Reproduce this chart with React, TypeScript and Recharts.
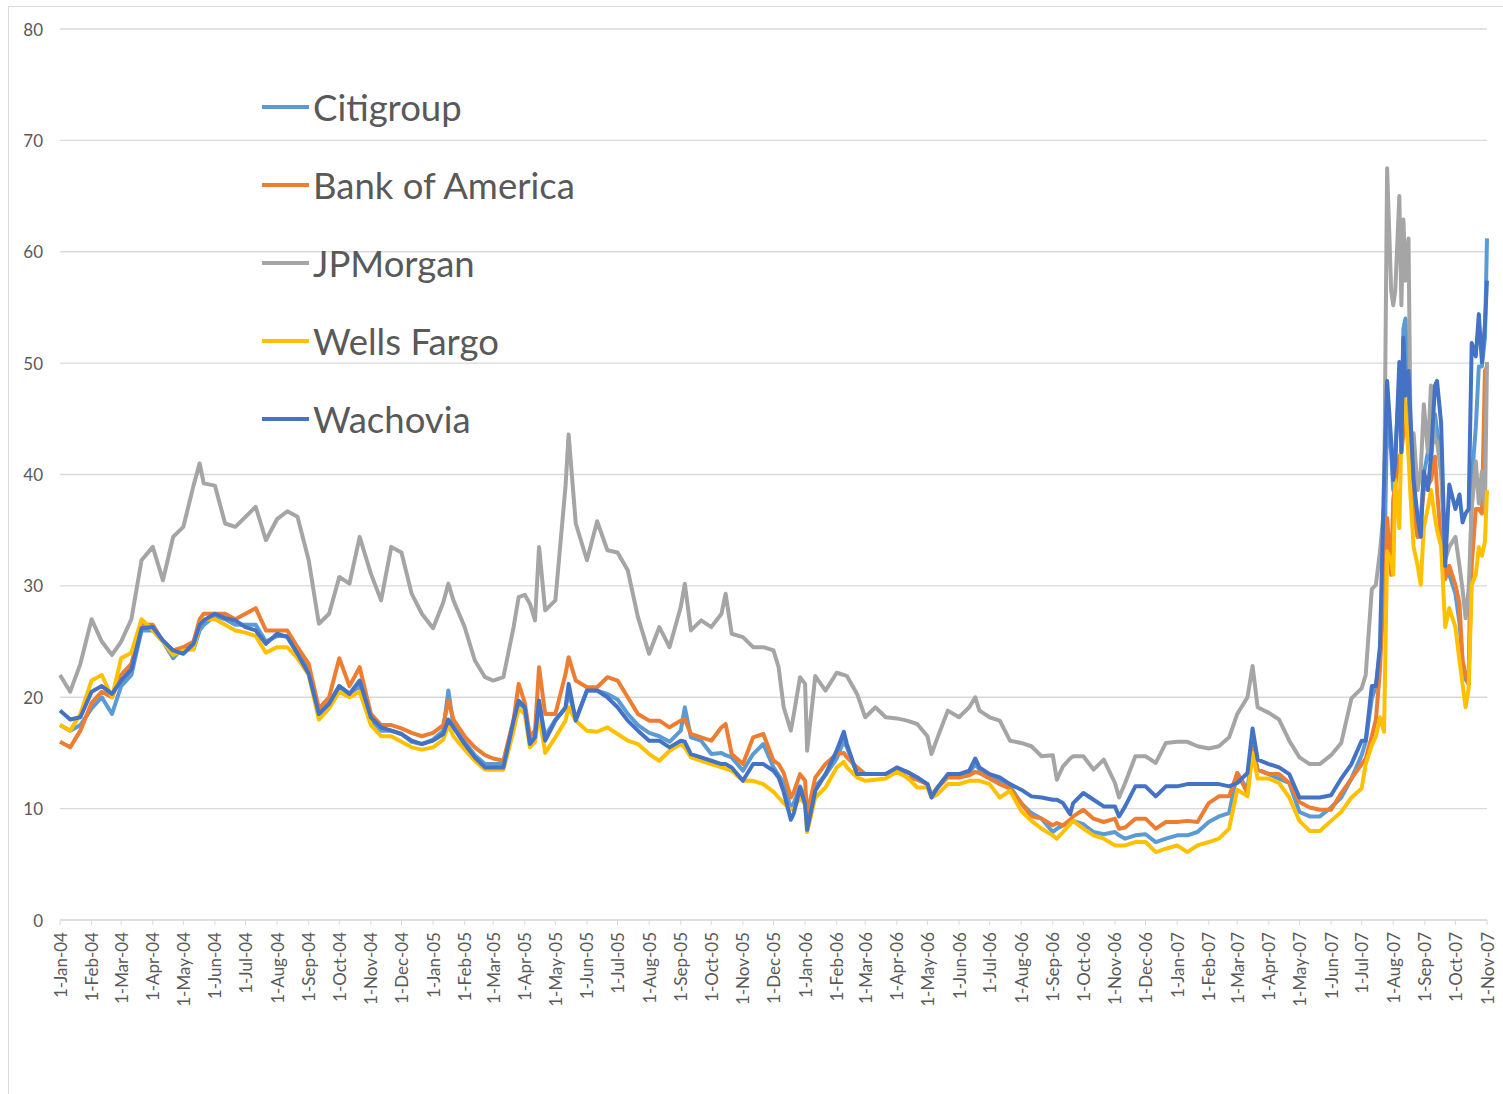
import React from "react"
import { LineChart, Line, XAxis, YAxis, CartesianGrid, Legend } from "recharts"

// sample dates (roughly every 10 days, denser around the spikes)
const dates = [
  "2004-01-01", "2004-01-11", "2004-01-21", "2004-02-01", "2004-02-11", "2004-02-21", "2004-03-01", "2004-03-11", "2004-03-21",
  "2004-04-01", "2004-04-11", "2004-04-21", "2004-05-01", "2004-05-11", "2004-05-17", "2004-05-21", "2004-06-01", "2004-06-11",
  "2004-06-21", "2004-07-01", "2004-07-11", "2004-07-21", "2004-08-01", "2004-08-11", "2004-08-21", "2004-09-01", "2004-09-11",
  "2004-09-21", "2004-10-01", "2004-10-11", "2004-10-21", "2004-11-01", "2004-11-11", "2004-11-21", "2004-12-01", "2004-12-11",
  "2004-12-21", "2005-01-01", "2005-01-11", "2005-01-16", "2005-01-21", "2005-02-01", "2005-02-11", "2005-02-21", "2005-03-01",
  "2005-03-11", "2005-03-21", "2005-03-26", "2005-04-01", "2005-04-06", "2005-04-11", "2005-04-15", "2005-04-21", "2005-05-01",
  "2005-05-11", "2005-05-14", "2005-05-21", "2005-06-01", "2005-06-11", "2005-06-21", "2005-07-01", "2005-07-11", "2005-07-21",
  "2005-08-01", "2005-08-11", "2005-08-21", "2005-09-01", "2005-09-05", "2005-09-11", "2005-09-21", "2005-10-01", "2005-10-11",
  "2005-10-15", "2005-10-21", "2005-11-01", "2005-11-11", "2005-11-21", "2005-12-01", "2005-12-06", "2005-12-11", "2005-12-18",
  "2005-12-21", "2005-12-27", "2006-01-01", "2006-01-03", "2006-01-11", "2006-01-21", "2006-02-01", "2006-02-08", "2006-02-11",
  "2006-02-21", "2006-03-01", "2006-03-11", "2006-03-21", "2006-04-01", "2006-04-11", "2006-04-21", "2006-05-01", "2006-05-05",
  "2006-05-11", "2006-05-21", "2006-06-01", "2006-06-11", "2006-06-17", "2006-06-21", "2006-07-01", "2006-07-11", "2006-07-21",
  "2006-08-01", "2006-08-11", "2006-08-21", "2006-09-01", "2006-09-05", "2006-09-11", "2006-09-18", "2006-09-21", "2006-10-01",
  "2006-10-11", "2006-10-21", "2006-11-01", "2006-11-05", "2006-11-11", "2006-11-21", "2006-12-01", "2006-12-11", "2006-12-21",
  "2007-01-01", "2007-01-11", "2007-01-21", "2007-02-01", "2007-02-11", "2007-02-21", "2007-03-01", "2007-03-11", "2007-03-16",
  "2007-03-21", "2007-04-01", "2007-04-11", "2007-04-21", "2007-05-01", "2007-05-11", "2007-05-21", "2007-06-01", "2007-06-11",
  "2007-06-21", "2007-07-01", "2007-07-05", "2007-07-11", "2007-07-15", "2007-07-19", "2007-07-23", "2007-07-26", "2007-07-30",
  "2007-08-01", "2007-08-03", "2007-08-07", "2007-08-09", "2007-08-11", "2007-08-13", "2007-08-16", "2007-08-18", "2007-08-21",
  "2007-08-25", "2007-08-28", "2007-08-31", "2007-09-04", "2007-09-07", "2007-09-11", "2007-09-13", "2007-09-17", "2007-09-21",
  "2007-09-25", "2007-10-01", "2007-10-05", "2007-10-08", "2007-10-11", "2007-10-14", "2007-10-17", "2007-10-21", "2007-10-24",
  "2007-10-27", "2007-10-30", "2007-11-01",
]

const citigroup = [
  17.5, 17, 17.5, 19, 20, 18.5, 21, 22, 26, 26, 25, 23.5, 24.5, 24.3, 26, 26.5, 27.3, 27, 26.5, 26.5, 26.5, 25, 25.5, 25.5, 24,
  22.5, 18.5, 19.5, 21, 20.3, 21, 18, 17, 17, 16.7, 16, 15.8, 16.2, 17, 20.6, 17.5, 16, 14.8, 14, 14, 14, 17.5, 19.5, 19, 16,
  16.5, 19.5, 16.5, 18, 19, 20.5, 18, 20.6, 20.6, 20.3, 19.8, 18.5, 17.5, 16.8, 16.5, 16, 17, 19.1, 16.4, 16.1, 14.9, 15, 14.8,
  14.6, 13.4, 14.9, 15.8, 13.7, 13, 12.3, 10, 10.5, 12, 11, 8.5, 12, 13, 14.5, 16.1, 15.5, 13.1, 13.1, 13.1, 13.1, 13.6, 13.3,
  12.8, 12.2, 11.2, 11.9, 13, 13, 13.2, 14, 13.5, 12.9, 12.5, 12, 10.5, 9.6, 9.1, 7.9, 8.2, 8.5, 8.7, 8.9, 8.6, 7.9, 7.7, 7.9,
  7.6, 7.3, 7.6, 7.7, 7, 7.3, 7.6, 7.6, 7.9, 8.8, 9.3, 9.6, 13.2, 11.7, 15.6, 13.5, 13.1, 12.7, 12.3, 9.7, 9.3, 9.3, 10.1, 11,
  12.7, 14.8, 16, 19.9, 21, 24, 30, 45.4, 42, 38.6, 42, 48, 45, 53.1, 54, 47.1, 44, 38.2, 34.4, 36, 40, 42, 41.2, 45.4, 44,
  41.6, 31.8, 31, 29.3, 26.7, 23.3, 21.6, 21.2, 39.5, 44.2, 49.7, 49.7, 52.3, 61.2,
]

const bankOfAmerica = [
  16, 15.5, 17, 19.5, 20.5, 20, 22, 23, 26.5, 26.5, 25, 24.2, 24.5, 25, 27, 27.5, 27.5, 27.5, 27, 27.5, 28, 26, 26, 26, 24.5,
  23, 19, 20, 23.5, 21, 22.7, 18.5, 17.5, 17.5, 17.2, 16.8, 16.5, 16.8, 17.5, 19.7, 18, 16.5, 15.5, 14.8, 14.5, 14.3, 18, 21.2,
  19.5, 16.5, 17, 22.7, 18.5, 18.5, 22.1, 23.6, 21.5, 20.9, 20.9, 21.8, 21.5, 20, 18.5, 17.9, 17.9, 17.3, 17.9, 18, 16.7, 16.4,
  16.1, 17.3, 17.6, 14.9, 14, 16.4, 16.7, 14.3, 14, 13.2, 11, 11.5, 13.1, 12.5, 9.5, 12.8, 14, 14.9, 15, 14.6, 13.7, 13.1, 13.1,
  13.1, 13.6, 12.8, 12.6, 12.2, 11.2, 11.9, 12.8, 12.8, 13, 13.3, 13.2, 12.7, 12.2, 11.8, 10.5, 9.3, 9.1, 8.5, 8.7, 8.5, 9, 9.3,
  9.9, 9.1, 8.8, 9.1, 8.2, 8.3, 9.1, 9.1, 8.2, 8.8, 8.8, 8.9, 8.8, 10.5, 11.1, 11.1, 13.2, 11.4, 15.3, 13.5, 13.1, 13.1, 12.3,
  10.6, 10.1, 9.9, 9.9, 11.4, 12.7, 14, 14.5, 16.5, 18, 22.5, 30, 36.1, 31, 37.8, 39, 41.6, 42, 43.7, 46.3, 45.4, 42, 36.5,
  34.4, 36, 38.6, 39, 39.5, 41.6, 38.6, 34, 30.6, 31.8, 30.1, 28.4, 23.3, 22, 21.2, 31.8, 36.9, 36.9, 36.5, 49.3, 49.7,
]

const jpMorgan = [
  22, 20.5, 23, 27, 25, 23.8, 25, 27, 32.3, 33.5, 30.5, 34.4, 35.3, 39, 41, 39.2, 39, 35.6, 35.3, 36.2, 37.1, 34.1, 36, 36.7,
  36.2, 32.3, 26.6, 27.5, 30.8, 30.2, 34.4, 31.1, 28.7, 33.5, 33, 29.3, 27.5, 26.2, 28.5, 30.2, 28.7, 26.3, 23.3, 21.8, 21.5,
  21.8, 26.3, 29, 29.2, 28.4, 26.9, 33.5, 27.8, 28.7, 39, 43.6, 35.6, 32.3, 35.8, 33.2, 33, 31.4, 27.2, 23.9, 26.3, 24.5, 28.1,
  30.2, 26, 26.9, 26.3, 27.5, 29.3, 25.7, 25.4, 24.5, 24.5, 24.2, 22.7, 19.1, 17, 18.5, 21.8, 21.2, 15.2, 21.9, 20.6, 22.2, 22,
  21.9, 20.3, 18.2, 19.1, 18.2, 18.1, 17.9, 17.6, 16.5, 14.9, 16.4, 18.8, 18.2, 19.1, 20, 18.8, 18.2, 17.9, 16.1, 15.9, 15.6,
  14.7, 14.8, 12.6, 13.8, 14.5, 14.7, 14.7, 13.5, 14.4, 12.3, 11, 12.3, 14.7, 14.7, 14.1, 15.9, 16, 16, 15.6, 15.4, 15.6, 16.4,
  18.5, 20, 22.8, 19.1, 18.6, 18, 16.1, 14.6, 14, 14, 14.8, 15.9, 19.9, 20.8, 22, 29.7, 30.1, 33.1, 37, 67.5, 56.5, 55.2, 56.5,
  65, 55.2, 62.9, 57.4, 61.2, 43.7, 43.7, 38.6, 40.3, 46.3, 42, 48, 42.9, 43, 40, 32.3, 33.5, 34.4, 31.8, 29.7, 27.1, 29.7,
  36.9, 41.2, 37.4, 40.3, 36.9, 50.1,
]

const wellsFargo = [
  17.5, 17, 18.5, 21.5, 22, 20, 23.5, 24, 27, 26, 25, 23.8, 24.2, 24.3, 26.5, 27, 27, 26.5, 26, 25.8, 25.5, 24, 24.5, 24.5,
  23.5, 22, 18, 19, 20.5, 20, 20.5, 17.5, 16.5, 16.5, 16, 15.5, 15.3, 15.5, 16.2, 17.5, 16.5, 15.3, 14.3, 13.5, 13.5, 13.5, 17,
  19, 18.5, 15.5, 16, 18.5, 15, 16.4, 17.9, 19.1, 17.9, 17, 16.9, 17.3, 16.7, 16.1, 15.8, 14.9, 14.3, 15.2, 15.8, 15.5, 14.6,
  14.3, 14, 13.7, 13.6, 13.4, 12.5, 12.5, 12.2, 11.5, 11, 10.5, 9.9, 10, 11, 10.4, 7.9, 11, 11.9, 13.7, 14.2, 13.7, 12.8, 12.5,
  12.6, 12.7, 13.3, 12.8, 11.9, 11.9, 11, 11.3, 12.2, 12.2, 12.5, 12.5, 12.5, 12.2, 11, 11.6, 9.8, 8.9, 8.2, 7.6, 7.3, 7.9, 8.6,
  8.9, 8.2, 7.6, 7.3, 6.7, 6.7, 6.7, 7, 7, 6.1, 6.4, 6.7, 6.1, 6.7, 7, 7.3, 8.2, 11.7, 11.1, 15, 12.7, 12.7, 12.3, 11, 8.9, 8,
  8, 8.9, 9.7, 11, 11.8, 14, 15.7, 16.5, 18.2, 16.9, 33.1, 32.3, 31, 39.5, 35.2, 43.7, 48, 45.9, 41.6, 38, 33.5, 31.8, 30.1,
  35.2, 37, 38.6, 36.1, 35, 33.5, 26.3, 28, 26.3, 23.3, 21.2, 19.1, 20.8, 30.1, 31, 33.5, 32.7, 34, 38.6,
]

const wachovia = [
  18.8, 18, 18.2, 20.5, 21, 20.3, 21.5, 22.5, 26.2, 26.3, 25.1, 24.2, 23.9, 24.8, 26.5, 26.9, 27.5, 27.1, 26.9, 26.3, 26, 24.8,
  25.7, 25.4, 23.9, 22.1, 18.5, 19.4, 21, 20.3, 21.5, 18.2, 17.3, 17, 16.7, 16.1, 15.8, 16.1, 16.7, 18, 17.3, 15.8, 14.6, 13.7,
  13.7, 13.7, 17.9, 19.7, 19.1, 15.8, 16.4, 19.7, 16.1, 17.9, 19.1, 21.2, 17.9, 20.6, 20.6, 20, 19.1, 17.9, 17, 16.1, 16.1,
  15.5, 16.1, 16, 14.9, 14.6, 14.3, 14, 14, 13.7, 12.5, 14, 14, 13.4, 12.8, 11.5, 9, 9.6, 11.9, 10.4, 8.1, 11.6, 13.1, 15.2,
  16.9, 15.8, 13.1, 13.1, 13.1, 13.1, 13.7, 13.3, 12.8, 12.2, 11, 11.9, 13.1, 13.1, 13.4, 14.5, 13.7, 13.1, 12.8, 12.2, 11.7,
  11.1, 11, 10.8, 10.8, 10.5, 9.5, 10.5, 11.4, 10.8, 10.2, 10.2, 9.3, 10.2, 12, 12, 11.1, 12, 12, 12.2, 12.2, 12.2, 12.2, 12,
  12.3, 13.2, 17.2, 14.4, 14, 13.7, 13.1, 11, 11, 11, 11.2, 12.7, 14, 16.1, 16.1, 21, 21, 24.6, 39.5, 48.4, 43, 39.5, 41,
  50.1, 42, 52.3, 47.1, 49.3, 45, 39.5, 36.1, 34.4, 40.3, 38.6, 41.6, 48, 48.4, 44.6, 31.8, 39.1, 36.9, 38.2, 35.7, 36.5, 36.9,
  51.8, 50.6, 54.4, 50.1, 53.5, 57.4,
]

const seriesList = [
  { key: "citigroup", name: "Citigroup", color: "#5B9BD5", values: citigroup },
  { key: "bankOfAmerica", name: "Bank of America", color: "#ED7D31", values: bankOfAmerica },
  { key: "jpMorgan", name: "JPMorgan", color: "#A5A5A5", values: jpMorgan },
  { key: "wellsFargo", name: "Wells Fargo", color: "#FFC000", values: wellsFargo },
  { key: "wachovia", name: "Wachovia", color: "#4472C4", values: wachovia },
]

const monthNames = ["Jan", "Feb", "Mar", "Apr", "May", "Jun", "Jul", "Aug", "Sep", "Oct", "Nov", "Dec"]
const yTicks = [0, 10, 20, 30, 40, 50, 60, 70, 80]

const toTime = (s: string) => Date.parse(s + "T00:00:00Z")

const data = dates.map((d, i) => {
  const row: Record<string, number> = { t: toTime(d) }
  seriesList.forEach((s) => (row[s.key] = s.values[i]))
  return row
})

// first day of each month, Jan 2004 .. Nov 2007
const monthTicks: number[] = []
for (let y = 2004; y <= 2007; y++) {
  for (let m = 0; m < 12; m++) {
    if (y === 2007 && m > 10) break
    monthTicks.push(Date.UTC(y, m, 1))
  }
}

const fmtMonth = (v: number) => {
  const d = new Date(v)
  return `1-${monthNames[d.getUTCMonth()]}-${String(d.getUTCFullYear()).slice(2)}`
}

const FONT = "Lato, 'Open Sans', sans-serif"
const TEXT = "#595959"

const XTick = (props: any) => {
  const { x, y, payload } = props
  return (
    <text
      x={x}
      y={y}
      transform={`rotate(-90, ${x}, ${y})`}
      textAnchor="end"
      dominantBaseline="central"
      fill={TEXT}
      fontSize={17}
      fontFamily={FONT}
    >
      {fmtMonth(payload.value)}
    </text>
  )
}

const YTick = (props: any) => {
  const { y, payload } = props
  return (
    <text x={43} y={y} textAnchor="end" dominantBaseline="central" fill={TEXT} fontSize={17} fontFamily={FONT}>
      {payload.value}
    </text>
  )
}

const renderLegend = () => (
  <div>
    {seriesList.map((s) => (
      <div key={s.key} style={{ display: "flex", alignItems: "center", height: 78 }}>
        <span style={{ display: "inline-block", width: 47, height: 4, background: s.color, marginRight: 4 }} />
        <span style={{ fontSize: 36.5, fontFamily: FONT, color: TEXT, lineHeight: 1 }}>{s.name}</span>
      </div>
    ))}
  </div>
)

export default function App() {
  return (
    <div style={{ position: "absolute", left: 0, top: 0, width: 1503, height: 1094, background: "#fff", overflow: "hidden" }}>
      <div
        style={{
          position: "absolute",
          left: 8,
          top: 6,
          width: 1495,
          height: 1088,
          borderLeft: "1.5px solid #d9d9d9",
          borderTop: "1.5px solid #d9d9d9",
        }}
      />
      <div style={{ position: "absolute", left: 0, top: 0 }}>
        <LineChart width={1503} height={1094} data={data} margin={{ top: 29, right: 16, bottom: 0, left: 0 }}>
          <CartesianGrid vertical={false} stroke="#d9d9d9" strokeWidth={1.3} />
          <XAxis
            dataKey="t"
            type="number"
            domain={[toTime("2004-01-01"), toTime("2007-11-01")]}
            ticks={monthTicks}
            interval={0}
            stroke="#d9d9d9"
            tickSize={5}
            tickMargin={7}
            tick={<XTick />}
            height={174}
          />
          <YAxis
            domain={[0, 80]}
            ticks={yTicks}
            width={60}
            axisLine={false}
            tickLine={false}
            tick={<YTick />}
          />
          <Legend
            layout="vertical"
            align="center"
            verticalAlign="middle"
            content={renderLegend}
            wrapperStyle={{ position: "absolute", left: 262, top: 68, width: 420 }}
          />
          {seriesList.map((s) => (
            <Line
              key={s.key}
              type="linear"
              dataKey={s.key}
              name={s.name}
              stroke={s.color}
              strokeWidth={4}
              strokeLinejoin="round"
              dot={false}
              activeDot={false}
              isAnimationActive={false}
            />
          ))}
        </LineChart>
      </div>
    </div>
  )
}
